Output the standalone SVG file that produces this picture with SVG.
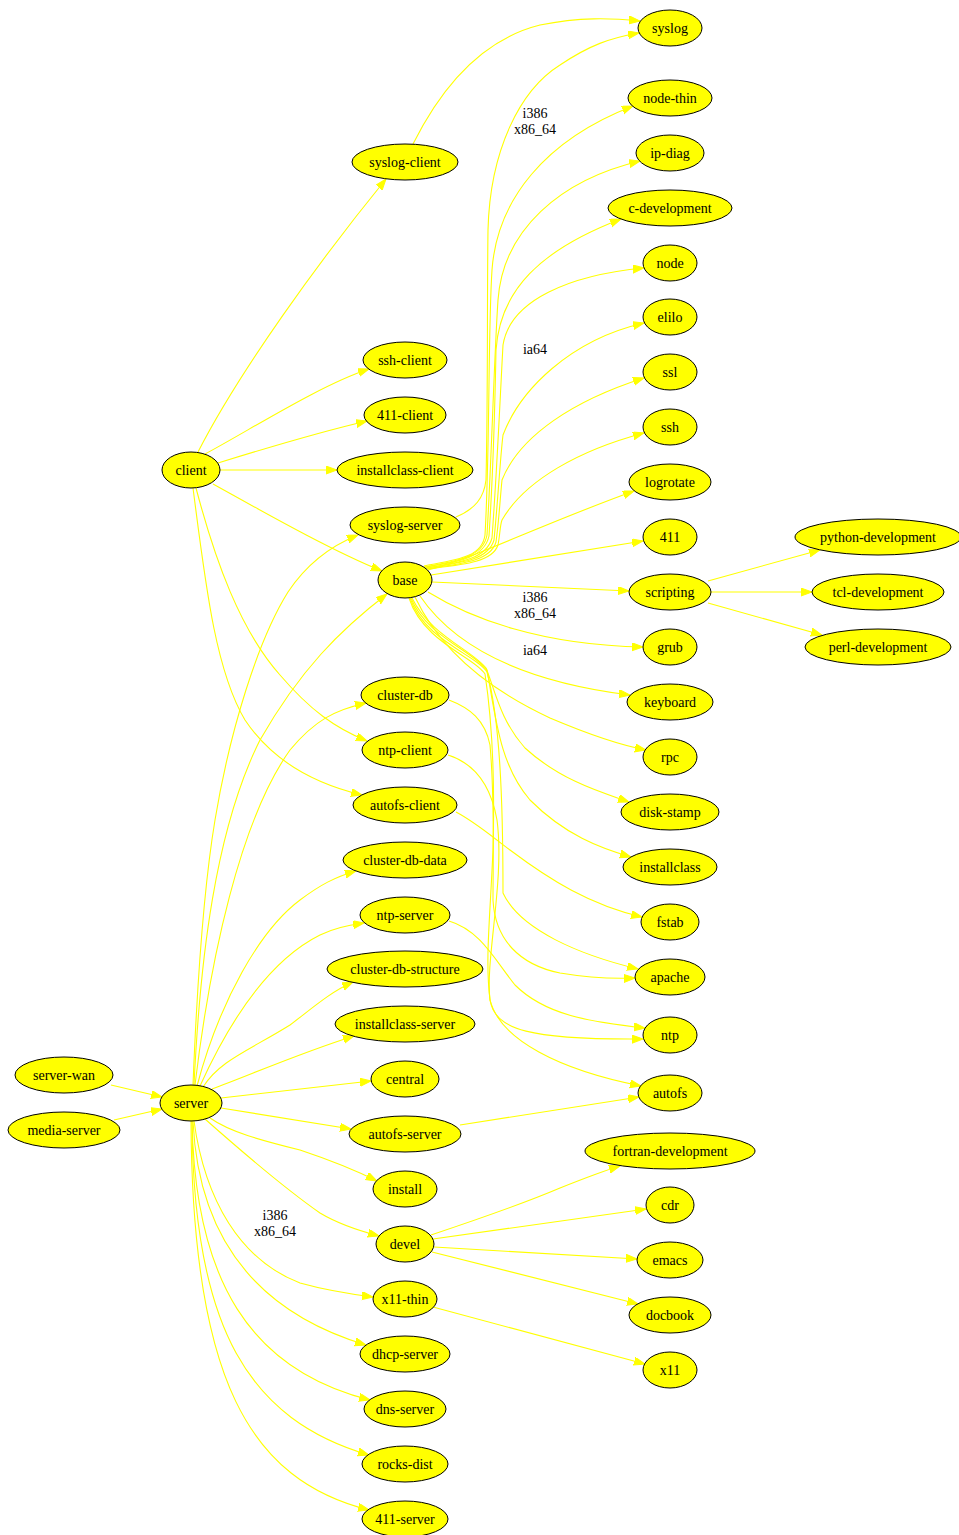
<svg xmlns="http://www.w3.org/2000/svg" width="959" height="1535" viewBox="0 0 959 1535">
<style>
.e{fill:none;stroke:#ffff00;stroke-width:1.1;marker-end:url(#ah)}
.n ellipse{fill:#ffff00;stroke:#000;stroke-width:1}
text{font-family:"Liberation Serif","Times New Roman",serif;font-size:14px;fill:#000;text-anchor:middle}
</style>
<defs>
<marker id="ah" markerUnits="userSpaceOnUse" markerWidth="13" markerHeight="10" refX="11" refY="4" orient="auto">
<path d="M0,0 L11,4 L0,8 z" fill="#ffff00" stroke="#ffff00" stroke-width="1"/>
</marker>
</defs>
<rect width="959" height="1535" fill="#fff"/>
<g id="connectors">
<path class="e" d="M198,452 C240,370 320,260 386,179"/>
<path class="e" d="M205,454 C250,430 320,385 369,369"/>
<path class="e" d="M218,463 C260,450 320,432 367,421"/>
<path class="e" d="M220,470 L337,470"/>
<path class="e" d="M213,484 C260,510 330,550 382,571"/>
<path class="e" d="M196,488 C215,560 240,630 280,675 C310,710 335,728 367,741"/>
<path class="e" d="M193,488 C205,580 215,670 245,720 C275,765 320,785 362,795"/>
<path class="e" d="M413,144 C440,90 480,40 540,25 C580,17 610,18 640,21"/>
<path class="e" d="M456,517 C475,509 484,498 486,480 C488,400 487,300 488,230 C490,150 520,90 560,65 C590,45 610,38 639,33"/>
<path class="e" d="M424,566 C455,560 482,558 485,535 C490,450 488,330 492,270 C497,200 545,140 633,106"/>
<path class="e" d="M424,567 C455,561 483,558 487,535 C492,450 494,360 498,300 C503,230 560,180 640,161"/>
<path class="e" d="M425,567 C456,562 484,559 489,536 C494,460 495,400 496,350 C500,290 540,250 621,219"/>
<path class="e" d="M425,568 C457,563 486,560 492,538 C497,470 500,400 503,345 C510,300 570,275 644,268"/>
<path class="e" d="M426,568 C458,563 488,561 494,540 C498,500 500,460 503,435 C520,390 570,340 644,323"/>
<path class="e" d="M426,569 C459,564 490,562 496,542 C499,520 500,500 502,480 C520,435 575,400 644,378"/>
<path class="e" d="M427,569 C460,565 492,563 498,545 C500,535 500,525 502,520 C525,480 580,450 644,433"/>
<path class="e" d="M428,570 C470,560 540,525 634,491"/>
<path class="e" d="M431,575 L643,541"/>
<path class="e" d="M432,582 L629,591"/>
<path class="e" d="M428,592 C470,618 540,645 643,647"/>
<path class="e" d="M420,596 C450,640 510,680 630,695"/>
<path class="e" d="M415,597 C440,650 490,690 550,718 C590,735 620,745 646,750"/>
<path class="e" d="M412,598 C430,635 472,650 486,668 C495,690 500,720 525,748 C560,780 600,792 629,802"/>
<path class="e" d="M411,598 C425,635 474,652 487,670 C496,720 500,765 530,800 C565,835 600,848 631,857"/>
<path class="e" d="M410,598 C424,640 478,656 487,672 C500,720 503,800 503,893 C520,930 580,955 638,969"/>
<path class="e" d="M409,598 C423,642 476,658 485,674 C492,720 495,780 493,850 C490,920 485,960 490,1000 C500,1040 560,1070 641,1086"/>
<path class="e" d="M449,700 C470,708 485,720 490,745 C495,800 493,860 493,900 C495,940 520,965 560,973 C590,978 612,979 635,978"/>
<path class="e" d="M448,755 C470,762 490,780 497,820 C505,880 485,960 490,1000 C495,1030 530,1040 643,1039"/>
<path class="e" d="M456,812 C475,822 490,835 510,850 C550,880 590,905 642,917"/>
<path class="e" d="M449,921 C480,930 495,960 515,985 C545,1015 590,1022 645,1028"/>
<path class="e" d="M460,1125 L639,1097"/>
<path class="e" d="M708,581 L820,550"/>
<path class="e" d="M711,592 L812,592"/>
<path class="e" d="M708,603 L822,635"/>
<path class="e" d="M111,1085 L162,1097"/>
<path class="e" d="M114,1120 L162,1109"/>
<path class="e" d="M193,1085 C198,960 205,880 215,820 C230,730 258,640 288,592 C308,562 333,545 358,535"/>
<path class="e" d="M194,1085 C200,960 215,830 260,740 C300,670 340,630 387,594"/>
<path class="e" d="M195,1085 C210,960 240,820 290,750 C315,720 335,710 366,703"/>
<path class="e" d="M197,1086 C220,1000 260,930 300,900 C320,885 335,877 356,871"/>
<path class="e" d="M200,1086 C230,1020 270,960 320,935 C335,928 345,926 364,923"/>
<path class="e" d="M203,1087 C220,1060 250,1050 290,1025 C310,1010 330,992 353,982"/>
<path class="e" d="M212,1089 C250,1075 300,1053 354,1036"/>
<path class="e" d="M221,1098 L371,1081"/>
<path class="e" d="M221,1108 L351,1129"/>
<path class="e" d="M210,1118 C230,1132 260,1140 300,1150 C330,1160 355,1170 377,1181"/>
<path class="e" d="M205,1119 C240,1150 280,1185 320,1213 C340,1225 360,1231 379,1236"/>
<path class="e" d="M194,1121 C205,1200 240,1260 300,1283 C325,1290 350,1294 373,1297"/>
<path class="e" d="M193,1121 C198,1230 250,1310 366,1345"/>
<path class="e" d="M192,1121 C195,1280 250,1370 370,1400"/>
<path class="e" d="M192,1121 C193,1330 250,1420 369,1455"/>
<path class="e" d="M191,1121 C192,1380 250,1480 369,1510"/>
<path class="e" d="M431,1235 C470,1222 520,1205 560,1188 C585,1178 600,1172 620,1166"/>
<path class="e" d="M433,1239 L646,1209"/>
<path class="e" d="M434,1247 L637,1259"/>
<path class="e" d="M432,1252 L638,1304"/>
<path class="e" d="M433,1307 L645,1364"/>
<text x="535" y="118">i386</text>
<text x="535" y="134">x86_64</text>
<text x="535" y="354">ia64</text>
<text x="535" y="602">i386</text>
<text x="535" y="618">x86_64</text>
<text x="535" y="655">ia64</text>
<text x="275" y="1220">i386</text>
<text x="275" y="1236">x86_64</text>
</g>
<g id="server-wan" class="n"><ellipse cx="64" cy="1075" rx="49" ry="18"/><text x="64" y="1080">server-wan</text></g>
<g id="media-server" class="n"><ellipse cx="64" cy="1130" rx="56" ry="18"/><text x="64" y="1135">media-server</text></g>
<g id="client" class="n"><ellipse cx="191" cy="470" rx="29" ry="18"/><text x="191" y="475">client</text></g>
<g id="server" class="n"><ellipse cx="191" cy="1103" rx="31" ry="18"/><text x="191" y="1108">server</text></g>
<g id="syslog-client" class="n"><ellipse cx="405" cy="162" rx="53" ry="18"/><text x="405" y="167">syslog-client</text></g>
<g id="ssh-client" class="n"><ellipse cx="405" cy="360" rx="42" ry="18"/><text x="405" y="365">ssh-client</text></g>
<g id="411-client" class="n"><ellipse cx="405" cy="415" rx="41" ry="18"/><text x="405" y="420">411-client</text></g>
<g id="installclass-client" class="n"><ellipse cx="405" cy="470" rx="68" ry="18"/><text x="405" y="475">installclass-client</text></g>
<g id="syslog-server" class="n"><ellipse cx="405" cy="525" rx="55" ry="18"/><text x="405" y="530">syslog-server</text></g>
<g id="base" class="n"><ellipse cx="405" cy="580" rx="27" ry="18"/><text x="405" y="585">base</text></g>
<g id="cluster-db" class="n"><ellipse cx="405" cy="695" rx="44" ry="18"/><text x="405" y="700">cluster-db</text></g>
<g id="ntp-client" class="n"><ellipse cx="405" cy="750" rx="43" ry="18"/><text x="405" y="755">ntp-client</text></g>
<g id="autofs-client" class="n"><ellipse cx="405" cy="805" rx="52" ry="18"/><text x="405" y="810">autofs-client</text></g>
<g id="cluster-db-data" class="n"><ellipse cx="405" cy="860" rx="62" ry="18"/><text x="405" y="865">cluster-db-data</text></g>
<g id="ntp-server" class="n"><ellipse cx="405" cy="915" rx="45" ry="18"/><text x="405" y="920">ntp-server</text></g>
<g id="cluster-db-structure" class="n"><ellipse cx="405" cy="969" rx="78" ry="18"/><text x="405" y="974">cluster-db-structure</text></g>
<g id="installclass-server" class="n"><ellipse cx="405" cy="1024" rx="70" ry="18"/><text x="405" y="1029">installclass-server</text></g>
<g id="central" class="n"><ellipse cx="405" cy="1079" rx="34" ry="18"/><text x="405" y="1084">central</text></g>
<g id="autofs-server" class="n"><ellipse cx="405" cy="1134" rx="56" ry="18"/><text x="405" y="1139">autofs-server</text></g>
<g id="install" class="n"><ellipse cx="405" cy="1189" rx="32" ry="18"/><text x="405" y="1194">install</text></g>
<g id="devel" class="n"><ellipse cx="405" cy="1244" rx="29" ry="18"/><text x="405" y="1249">devel</text></g>
<g id="x11-thin" class="n"><ellipse cx="405" cy="1299" rx="32" ry="18"/><text x="405" y="1304">x11-thin</text></g>
<g id="dhcp-server" class="n"><ellipse cx="405" cy="1354" rx="45" ry="18"/><text x="405" y="1359">dhcp-server</text></g>
<g id="dns-server" class="n"><ellipse cx="405" cy="1409" rx="41" ry="18"/><text x="405" y="1414">dns-server</text></g>
<g id="rocks-dist" class="n"><ellipse cx="405" cy="1464" rx="43" ry="18"/><text x="405" y="1469">rocks-dist</text></g>
<g id="411-server" class="n"><ellipse cx="405" cy="1519" rx="43" ry="18"/><text x="405" y="1524">411-server</text></g>
<g id="syslog" class="n"><ellipse cx="670" cy="28" rx="32" ry="18"/><text x="670" y="33">syslog</text></g>
<g id="node-thin" class="n"><ellipse cx="670" cy="98" rx="42" ry="18"/><text x="670" y="103">node-thin</text></g>
<g id="ip-diag" class="n"><ellipse cx="670" cy="153" rx="34" ry="18"/><text x="670" y="158">ip-diag</text></g>
<g id="c-development" class="n"><ellipse cx="670" cy="208" rx="62" ry="18"/><text x="670" y="213">c-development</text></g>
<g id="node" class="n"><ellipse cx="670" cy="263" rx="27" ry="18"/><text x="670" y="268">node</text></g>
<g id="elilo" class="n"><ellipse cx="670" cy="317" rx="27" ry="18"/><text x="670" y="322">elilo</text></g>
<g id="ssl" class="n"><ellipse cx="670" cy="372" rx="27" ry="18"/><text x="670" y="377">ssl</text></g>
<g id="ssh" class="n"><ellipse cx="670" cy="427" rx="27" ry="18"/><text x="670" y="432">ssh</text></g>
<g id="logrotate" class="n"><ellipse cx="670" cy="482" rx="41" ry="18"/><text x="670" y="487">logrotate</text></g>
<g id="411" class="n"><ellipse cx="670" cy="537" rx="27" ry="18"/><text x="670" y="542">411</text></g>
<g id="scripting" class="n"><ellipse cx="670" cy="592" rx="41" ry="18"/><text x="670" y="597">scripting</text></g>
<g id="grub" class="n"><ellipse cx="670" cy="647" rx="27" ry="18"/><text x="670" y="652">grub</text></g>
<g id="keyboard" class="n"><ellipse cx="670" cy="702" rx="43" ry="18"/><text x="670" y="707">keyboard</text></g>
<g id="rpc" class="n"><ellipse cx="670" cy="757" rx="27" ry="18"/><text x="670" y="762">rpc</text></g>
<g id="disk-stamp" class="n"><ellipse cx="670" cy="812" rx="49" ry="18"/><text x="670" y="817">disk-stamp</text></g>
<g id="installclass" class="n"><ellipse cx="670" cy="867" rx="47" ry="18"/><text x="670" y="872">installclass</text></g>
<g id="fstab" class="n"><ellipse cx="670" cy="922" rx="29" ry="18"/><text x="670" y="927">fstab</text></g>
<g id="apache" class="n"><ellipse cx="670" cy="977" rx="35" ry="18"/><text x="670" y="982">apache</text></g>
<g id="ntp" class="n"><ellipse cx="670" cy="1035" rx="27" ry="18"/><text x="670" y="1040">ntp</text></g>
<g id="autofs" class="n"><ellipse cx="670" cy="1093" rx="32" ry="18"/><text x="670" y="1098">autofs</text></g>
<g id="fortran-development" class="n"><ellipse cx="670" cy="1151" rx="85" ry="18"/><text x="670" y="1156">fortran-development</text></g>
<g id="cdr" class="n"><ellipse cx="670" cy="1205" rx="24" ry="18"/><text x="670" y="1210">cdr</text></g>
<g id="emacs" class="n"><ellipse cx="670" cy="1260" rx="33" ry="18"/><text x="670" y="1265">emacs</text></g>
<g id="docbook" class="n"><ellipse cx="670" cy="1315" rx="41" ry="18"/><text x="670" y="1320">docbook</text></g>
<g id="x11" class="n"><ellipse cx="670" cy="1370" rx="27" ry="18"/><text x="670" y="1375">x11</text></g>
<g id="python-development" class="n"><ellipse cx="878" cy="537" rx="83" ry="18"/><text x="878" y="542">python-development</text></g>
<g id="tcl-development" class="n"><ellipse cx="878" cy="592" rx="66" ry="18"/><text x="878" y="597">tcl-development</text></g>
<g id="perl-development" class="n"><ellipse cx="878" cy="647" rx="73" ry="18"/><text x="878" y="652">perl-development</text></g>
</svg>
